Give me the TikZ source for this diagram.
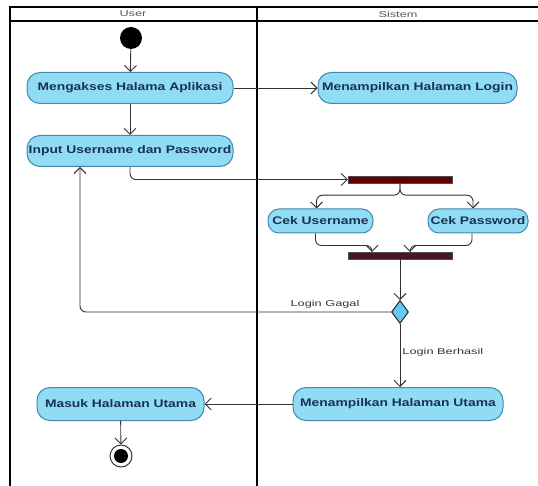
\documentclass[tikz,border=0pt]{standalone}
\usepackage{fontspec}
\setmainfont{Liberation Sans}
\newfontfamily\boxfont{Liberation Sans}[FakeStretch=1.26]
\newfontfamily\lblfont{Liberation Sans}[FakeStretch=1.5]
\usetikzlibrary{arrows.meta,shapes.geometric}
\definecolor{boxfill}{RGB}{145,220,245}
\definecolor{boxdraw}{RGB}{70,135,170}
\definecolor{txt}{RGB}{25,50,80}
\definecolor{forkc}{RGB}{100,0,0}
\definecolor{joinc}{RGB}{75,20,45}
\definecolor{ln}{RGB}{50,50,50}
\definecolor{dia}{RGB}{100,200,240}
\tikzset{
  act/.style={draw=boxdraw, fill=boxfill, line width=1pt, rounded corners=13pt,
    minimum height=31pt, inner sep=1pt, font=\boxfont\fontsize{11}{12}\selectfont\bfseries, text=txt},
  flow/.style={draw=ln, line width=0.9pt, -{Straight Barb[length=6pt,width=12pt]}, rounded corners=6pt},
  bar/.style={draw=black!70, minimum width=104pt, minimum height=7pt, inner sep=0pt},
  lane/.style={line width=2pt, draw=black},
  lbl/.style={font=\lblfont\fontsize{8.5}{10}\selectfont, text=black!80},
}
\begin{document}
\begin{tikzpicture}[x=1pt,y=-1pt]
\path[use as bounding box, fill=white] (0,0) rectangle (538,486);
% swimlanes
\draw[lane] (10,486) -- (10,7) -- (538,7);
\draw[lane, line width=1.5pt] (10,21) -- (538,21);
\draw[lane] (257,7) -- (257,486);
\node[lbl, text=black!65] (hu) at (133,14) {User};
\node[lbl, text=black!65] (hs) at (398,14) {Sistem};
% nodes
\node[circle, fill=black, minimum size=22pt, inner sep=0pt] (start) at (131,38) {};
\node[act, minimum width=206pt] (a1) at (130,88) {Mengakses Halama Aplikasi};
\node[act, minimum width=199pt] (a2) at (417.5,88) {Menampilkan Halaman Login};
\node[act, minimum width=206pt] (a3) at (130,151) {Input Username dan Password};
\node[bar, fill=forkc] (f1) at (400,179.5) {};
\node[act, minimum width=105pt, minimum height=24pt, rounded corners=11pt] (c1) at (320.5,221) {Cek Username};
\node[act, minimum width=100pt, minimum height=24pt, rounded corners=11pt] (c2) at (478,221) {Cek Password};
\node[bar, fill=joinc] (f2) at (400,255.5) {};
\node[diamond, draw=black!85, fill=dia, line width=1pt, minimum width=17pt, minimum height=23pt, inner sep=0pt] (d) at (400,312) {};
\node[act, minimum width=210pt, minimum height=33pt] (a5) at (398,404) {Menampilkan Halaman Utama};
\node[act, minimum width=167pt, minimum height=33pt] (a4) at (120.5,404) {Masuk Halaman Utama};
\node[circle, draw=black!80, fill=white, line width=1pt, minimum size=22pt, inner sep=0pt] (end) at (121,456) {};
\node[circle, fill=black, minimum size=14pt, inner sep=0pt] (endin) at (end) {};
% connectors
\draw[flow] (start) -- (a1);
\draw[flow] (a1) -- (a2);
\draw[flow] (a1) -- (a3);
\draw[flow] (a3.south) |- (f1.west);
\draw[flow] (f1.south) -- ++(0,12) -| ([xshift=-4pt]c1.north);
\draw[flow] (f1.south) -- ++(0,12) -| ([xshift=-5pt]c2.north);
\draw[flow] ([xshift=-5pt]c1.south) -- ++(0,12) -| ([xshift=-28pt]f2.north);
\draw[flow] ([xshift=-6pt]c2.south) -- ++(0,12) -| ([xshift=10pt]f2.north);
\draw[flow] (f2.south) -- (d.north);
\draw[flow] (d.west) -- node[lbl, above, pos=0.22] {Login Gagal} ++(-300,0) coordinate (g1) -| ([xshift=-50pt]a3.south);
\draw[flow] (d.south) -- node[lbl, right, pos=0.45, inner sep=2pt] {Login Berhasil} (d.south |- a5.north);
\draw[flow] (a5) -- (a4);
\draw[flow] (a4) -- (end);
\end{tikzpicture}
\end{document}
